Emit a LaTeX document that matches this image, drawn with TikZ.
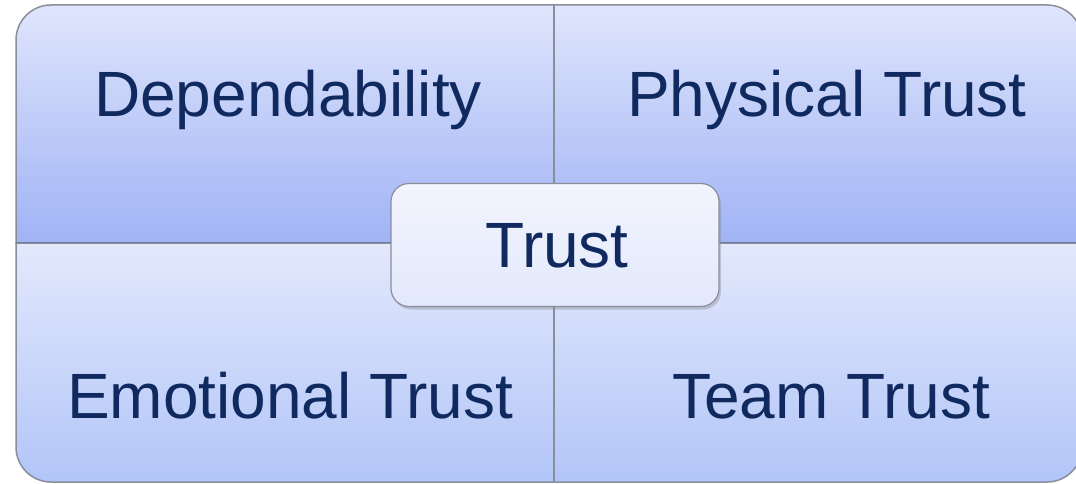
\documentclass[tikz,border=0pt]{standalone}
\usepackage{fontspec}
\setmainfont{Liberation Sans}
\usetikzlibrary{shadows}

\definecolor{navy}{HTML}{102A60}
\definecolor{qtop}{HTML}{DFE5FC}
\definecolor{qmid}{HTML}{A0B3F5}
\definecolor{qlow}{HTML}{E3E9FC}
\definecolor{qbot}{HTML}{B2C5F8}
\definecolor{edge}{HTML}{8A8E9A}

\begin{document}
\begin{tikzpicture}[x=1pt, y=-1pt,
    lbl/.style={anchor=base, text=navy, font=\fontsize{64}{76}\selectfont},
    quad/.style={draw=edge, line width=1.5pt}]
\clip (0,0) rectangle (1076,484);

% four quarters, outer corners rounded
\shade[quad, top color=qtop, bottom color=qmid]
    (16,243) [rounded corners=35]-- (16,5) [sharp corners]-- (554,5) -- (554,243) -- cycle;
\shade[quad, top color=qtop, bottom color=qmid]
    (554,243) -- (554,5) [rounded corners=35]-- (1082,5) [sharp corners]-- (1082,243) -- cycle;
\shade[quad, top color=qlow, bottom color=qbot]
    (16,243) -- (554,243) -- (554,482) [rounded corners=35]-- (16,482) [sharp corners]-- cycle;
\shade[quad, top color=qlow, bottom color=qbot]
    (554,243) -- (1082,243) [rounded corners=35]-- (1082,482) [sharp corners]-- (554,482) -- cycle;
\draw[color=navy!60, line width=1pt] (16,242) -- (1082,242);
\draw[color=edge, line width=2.5pt] (554,5) -- (554,482);

\node[lbl] (dep) at (288,117) {Dependability};
\node[lbl] (phys) at (827,117) {Physical Trust};
\node[lbl] (emo) at (290,418) {Emotional Trust};
\node[lbl] (team) at (831,418) {Team Trust};

% centre box
\node[draw=edge, line width=1.2pt, rounded corners=18, minimum width=328, minimum height=123,
    top color=white!60!qtop, bottom color=qlow!90!qtop, drop shadow={opacity=0.35, shadow xshift=2pt, shadow yshift=-3pt}]
    (box) at (555,245) {};
\node[lbl] (trust) at (557,267) {Trust};

\end{tikzpicture}
\end{document}
